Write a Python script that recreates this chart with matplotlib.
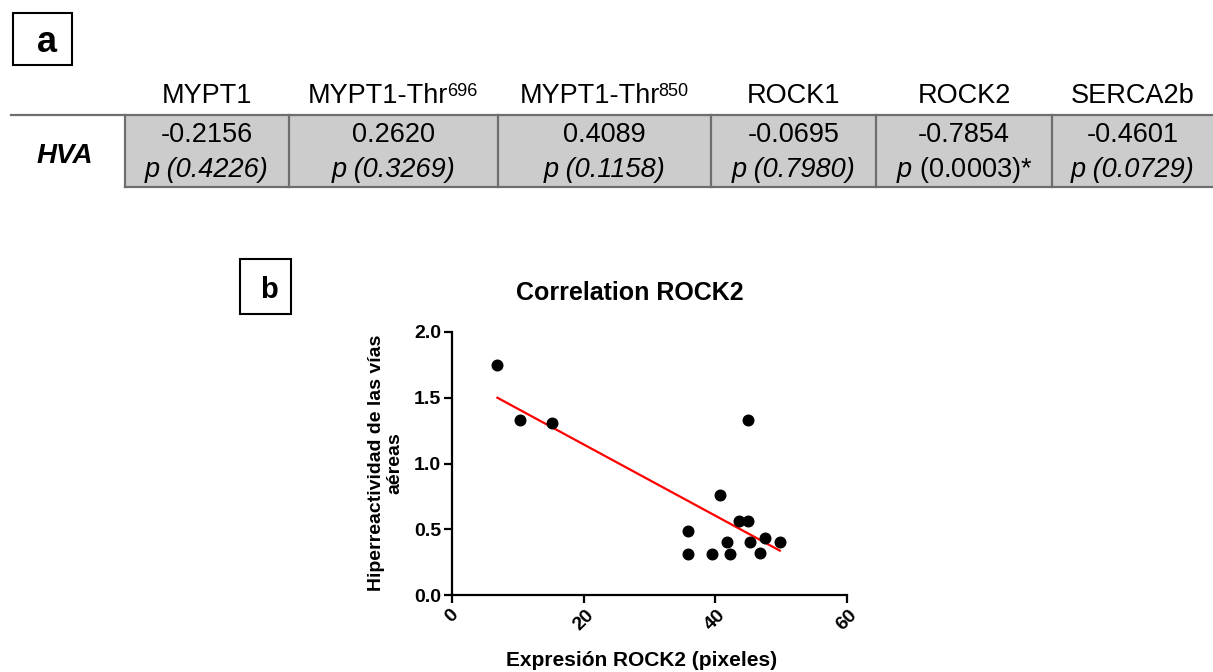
import numpy as np
import matplotlib
matplotlib.use("Agg")
import matplotlib.pyplot as plt
from matplotlib.patches import Rectangle
from matplotlib.lines import Line2D

plt.rcParams['font.family'] = ['Liberation Sans', 'DejaVu Sans']
plt.rcParams['mathtext.fontset'] = 'custom'
plt.rcParams['mathtext.rm'] = 'Liberation Sans'
plt.rcParams['mathtext.it'] = 'Liberation Sans:italic'

# Table (a): correlation of HVA with protein expression
proteins = ["MYPT1", "MYPT1-Thr", "MYPT1-Thr", "ROCK1", "ROCK2", "SERCA2b"]
protein_sup = ["", "696", "850", "", "", ""]
r_values = ["-0.2156", "0.2620", "0.4089", "-0.0695", "-0.7854", "-0.4601"]
p_values = ["p (0.4226)", "p (0.3269)", "p (0.1158)", "p (0.7980)",
            "$\\mathit{p}$ (0.0003)*", "p (0.0729)"]
p_italic = [True, True, True, True, False, True]

# Scatter (b): ROCK2 expression vs airway hyperreactivity
rock2_x = [6.9, 10.4, 15.2, 45.0, 40.7, 35.8, 35.9, 39.5, 41.7, 42.2,
           43.6, 44.9, 45.3, 46.8, 47.5, 49.8]
hva_y = [1.75, 1.33, 1.31, 1.33, 0.76, 0.49, 0.31, 0.31, 0.40, 0.31,
         0.56, 0.56, 0.40, 0.32, 0.43, 0.40]

W, H = 1213, 672
fig = plt.figure(figsize=(W / 100, H / 100), dpi=100)
renderer = fig.canvas.get_renderer()


def fx(px):
    return px / W


def fy(py):
    return 1 - py / H


def box_label(x0, y0, x1, y1, letter, size, tx, ty):
    fig.add_artist(Rectangle((fx(x0), fy(y1)), fx(x1 - x0), (y1 - y0) / H,
                             transform=fig.transFigure, fill=False,
                             edgecolor="black", linewidth=1.5))
    fig.text(fx(tx), fy(ty), letter, fontsize=size, fontweight="bold",
             ha="center", va="baseline")


# ---- panel a ----
box_label(13, 13, 72, 65, "a", 26, 47, 52)

col_edges = [125, 289, 498, 711, 876, 1052, 1213]
top, bottom = 115, 187
line_c = "#6e6e6e"

fig.add_artist(Rectangle((fx(125), fy(bottom)), fx(1213 - 125), (bottom - top) / H,
                         transform=fig.transFigure, facecolor="#cccccc",
                         edgecolor="none"))
fig.add_artist(Line2D([fx(11), fx(1213)], [fy(top), fy(top)],
                      transform=fig.transFigure, color=line_c, lw=1.6))
fig.add_artist(Line2D([fx(125), fx(1213)], [fy(bottom), fy(bottom)],
                      transform=fig.transFigure, color=line_c, lw=1.6))
for e in col_edges[:-1]:
    fig.add_artist(Line2D([fx(e), fx(e)], [fy(top), fy(bottom)],
                          transform=fig.transFigure, color=line_c, lw=1.6))

for i, name in enumerate(proteins):
    cx = (col_edges[i] + col_edges[i + 1]) / 2
    if protein_sup[i]:
        # base text + small raised superscript, centred together
        t1 = fig.text(0, 0, name, fontsize=19.5, va="baseline")
        t2 = fig.text(0, 0, protein_sup[i], fontsize=13, va="baseline")
        w1 = t1.get_window_extent(renderer).width
        w2 = t2.get_window_extent(renderer).width
        x0 = cx - (w1 + w2) / 2
        t1.set_position((fx(x0), fy(103)))
        t2.set_position((fx(x0 + w1 - 1), fy(96)))
    else:
        fig.text(fx(cx), fy(103), name, fontsize=19.5, ha="center", va="baseline")
    fig.text(fx(cx), fy(142), r_values[i], fontsize=19.5, ha="center", va="baseline")
    fig.text(fx(cx), fy(177), p_values[i], fontsize=19.5, ha="center",
             va="baseline", style="italic" if p_italic[i] else "normal")

fig.text(fx(65), fy(163), "HVA", fontsize=20, fontweight="bold",
         style="italic", ha="center", va="baseline")

# ---- panel b ----
box_label(240, 259, 291, 314, "b", 21, 269, 298)

ax = fig.add_axes([fx(452), fy(595), fx(847 - 452), (595 - 332) / H])
ax.scatter(rock2_x, hva_y, s=58, color="black", zorder=3, clip_on=False)

slope, icpt = np.polyfit(rock2_x, hva_y, 1)
xs = np.array([min(rock2_x), max(rock2_x)])
ax.plot(xs, slope * xs + icpt, color="red", lw=1.6, zorder=2)

ax.set_xlim(0, 60)
ax.set_ylim(0, 2.0)
ax.set_xticks([0, 20, 40, 60])
ax.set_yticks([0.0, 0.5, 1.0, 1.5, 2.0])
ax.set_yticklabels(["0.0", "0.5", "1.0", "1.5", "2.0"])
for s in ["top", "right"]:
    ax.spines[s].set_visible(False)
for s in ["left", "bottom"]:
    ax.spines[s].set_linewidth(1.6)
ax.tick_params(direction="out", length=6, width=1.6, labelsize=14, pad=2)
for lab in ax.get_xticklabels():
    lab.set_rotation(45)
    lab.set_ha("center")
    lab.set_fontweight("bold")
for lab in ax.get_yticklabels():
    lab.set_fontweight("bold")

fig.text(fx(630), fy(300), "Correlation ROCK2", fontsize=18, fontweight="bold",
         ha="center", va="baseline")
fig.text(fx(386), fy(463), "Hiperreactividad de las vías\naéreas", fontsize=14,
         fontweight="bold", rotation=90, ha="center", va="center",
         multialignment="center", linespacing=1.1)
fig.text(fx(642), fy(661), "Expresión ROCK2 (pixeles)", fontsize=15,
         fontweight="bold", ha="center", va="center")

fig.savefig("out.png", dpi=100)
